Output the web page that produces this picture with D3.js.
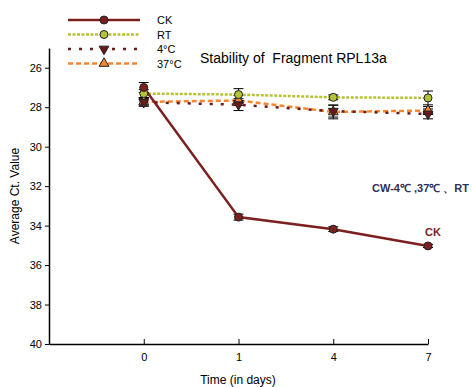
<!DOCTYPE html>
<html>
<head>
<meta charset="utf-8">
<script src="https://cdn.jsdelivr.net/npm/d3@7"></script>
<style>
  body { margin: 0; background: #fff; }
  text { font-family: "Liberation Sans", Arial, sans-serif; }
</style>
</head>
<body>
<div id="chart"></div>
<script>
// data
var days = ["0", "1", "4", "7"];
var ckValues = [27.0, 33.57, 34.18, 35.03];
var ckErr = [0.25, 0.15, 0.12, 0.08];
var rtValues = [27.31, 27.36, 27.5, 27.53];
var rtErr = [0.2, 0.3, 0.12, 0.35];
var c4Values = [27.75, 27.87, 28.2, 28.34];
var c4Err = [0.2, 0.3, 0.3, 0.25];
var c37Values = [27.73, 27.66, 28.24, 28.17];
var c37Err = [0.2, 0.25, 0.35, 0.2];
var yTicks = [26, 28, 30, 32, 34, 36, 38, 40];

var margin = {top: 48, left: 49},
    width = 379,
    height = 296;

var svg = d3.select("#chart")
  .append("svg")
    .attr("width", 472)
    .attr("height", 387);

var g = svg.append("g")
  .attr("transform", `translate(${margin.left},${margin.top})`);

// x: equal spacing, with an empty slot before day 0
var x = d3.scalePoint()
  .domain([""].concat(days))
  .range([0, width]);

var y = d3.scaleLinear()
  .domain([25, 40])
  .range([0, height]);

// axes
var xAxis = g.append("g")
  .attr("transform", `translate(0,${height})`)
  .call(d3.axisBottom(x).tickValues(days).tickSizeInner(-5).tickSizeOuter(0).tickPadding(9));
xAxis.select(".domain").attr("stroke-width", 1.5);
xAxis.selectAll("text").style("font-size", "11px").attr("fill", "#000");

var yAxis = g.append("g")
  .call(d3.axisLeft(y).tickValues(yTicks).tickSizeInner(4).tickSizeOuter(0).tickPadding(3));
yAxis.select(".domain").attr("stroke-width", 1.5);
yAxis.selectAll("text").style("font-size", "11px").attr("fill", "#000");

var series = [
  {name: "37°C", values: c37Values, err: c37Err, color: "#F58634", dash: "5,3", width: 2.5, marker: "up", fill: "#F58634"},
  {name: "4°C", values: c4Values, err: c4Err, color: "#6B1A1A", dash: "3,8", width: 2.5, marker: "down", fill: "#6B1A1A"},
  {name: "RT", values: rtValues, err: rtErr, color: "#B5C234", dash: "3,1.5", width: 2.5, marker: "circle", fill: "#B5C234"},
  {name: "CK", values: ckValues, err: ckErr, color: "#7B1F1F", dash: null, width: 2.5, marker: "circle", fill: "#7B1F1F"}
];

var line = d3.line()
  .x((d, i) => x(days[i]))
  .y(d => y(d));

function drawMarker(sel, type, fill) {
  if (type === "circle") {
    sel.append("circle").attr("r", 4)
      .attr("fill", fill).attr("stroke", "#222").attr("stroke-width", 1);
  } else {
    var sym = d3.symbol().type(d3.symbolTriangle).size(42);
    sel.append("path").attr("d", sym())
      .attr("transform", type === "down" ? "rotate(180)" : null)
      .attr("fill", fill).attr("stroke", "#222").attr("stroke-width", 1);
  }
}

series.forEach(s => {
  // error bars
  var eb = g.append("g").selectAll("g")
    .data(s.values)
    .enter().append("g");
  eb.append("line")
    .attr("x1", (d, i) => x(days[i])).attr("x2", (d, i) => x(days[i]))
    .attr("y1", (d, i) => y(d - s.err[i])).attr("y2", (d, i) => y(d + s.err[i]))
    .attr("stroke", "#000").attr("stroke-width", 1);
  eb.append("line")
    .attr("x1", (d, i) => x(days[i]) - 5).attr("x2", (d, i) => x(days[i]) + 5)
    .attr("y1", (d, i) => y(d - s.err[i])).attr("y2", (d, i) => y(d - s.err[i]))
    .attr("stroke", "#000").attr("stroke-width", 1);
  eb.append("line")
    .attr("x1", (d, i) => x(days[i]) - 5).attr("x2", (d, i) => x(days[i]) + 5)
    .attr("y1", (d, i) => y(d + s.err[i])).attr("y2", (d, i) => y(d + s.err[i]))
    .attr("stroke", "#000").attr("stroke-width", 1);

  g.append("path")
    .datum(s.values)
    .attr("fill", "none")
    .attr("stroke", s.color)
    .attr("stroke-width", s.width)
    .attr("stroke-dasharray", s.dash)
    .attr("d", line);
});

series.forEach(s => {
  s.values.forEach((d, i) => {
    var m = g.append("g").attr("transform", `translate(${x(days[i])},${y(d)})`);
    drawMarker(m, s.marker, s.fill);
  });
});

// legend
var legendOrder = ["CK", "RT", "4°C", "37°C"];
var legend = svg.append("g");
legendOrder.forEach((name, i) => {
  var s = series.find(d => d.name === name);
  var ly = 20 + i * 14.5;
  legend.append("line")
    .attr("x1", 68).attr("x2", 140).attr("y1", ly).attr("y2", ly)
    .attr("stroke", s.color).attr("stroke-width", s.width)
    .attr("stroke-dasharray", s.dash);
  var m = legend.append("g").attr("transform", `translate(104,${ly})`);
  drawMarker(m, s.marker, s.fill);
  legend.append("text")
    .attr("x", 157).attr("y", ly + 4)
    .style("font-size", "11px")
    .text(name);
});

// title and labels
svg.append("text")
  .attr("x", 200).attr("y", 63)
  .style("font-size", "14px")
  .style("white-space", "pre")
  .text("Stability of  Fragment RPL13a");

svg.append("text")
  .attr("x", 469).attr("y", 192)
  .attr("text-anchor", "end")
  .style("font-size", "11px").style("font-weight", "bold")
  .attr("fill", "#2F2F58")
  .text("CW-4℃ ,37℃ 、RT");

svg.append("text")
  .attr("x", 433).attr("y", 236)
  .attr("text-anchor", "middle")
  .style("font-size", "11px").style("font-weight", "bold")
  .attr("fill", "#7B1F1F")
  .text("CK");

svg.append("text")
  .attr("transform", "translate(19,196) rotate(-90)")
  .attr("text-anchor", "middle")
  .style("font-size", "12px")
  .text("Average Ct. Value");

svg.append("text")
  .attr("x", 238).attr("y", 384)
  .attr("text-anchor", "middle")
  .style("font-size", "12px")
  .text("Time (in days)");
</script>
</body>
</html>
